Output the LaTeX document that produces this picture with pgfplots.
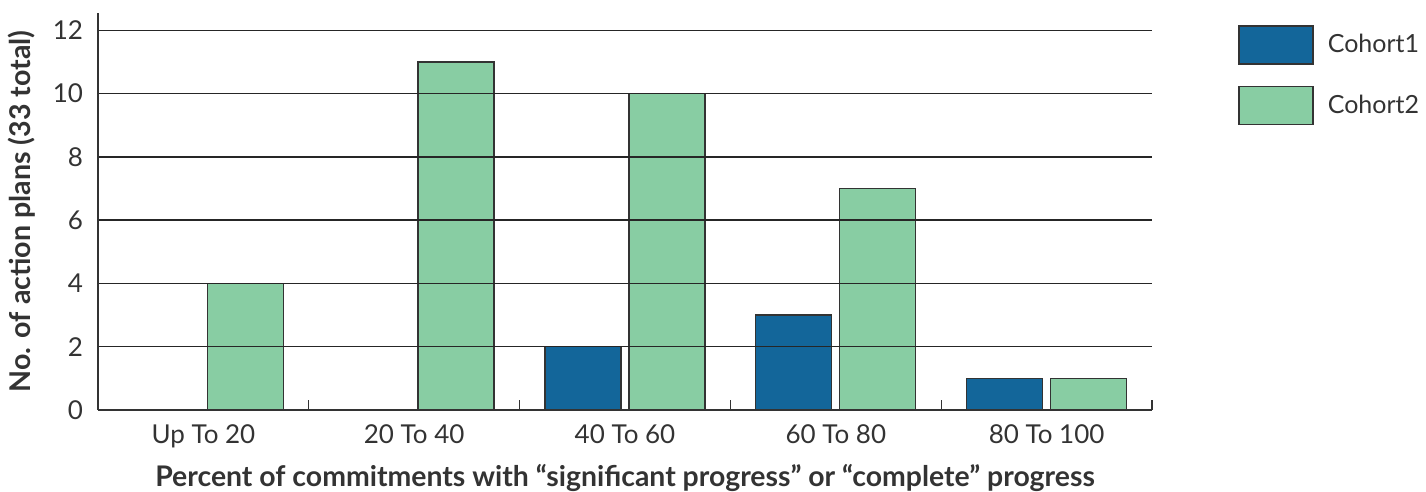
\documentclass[border=0pt]{standalone}
\usepackage{pgfplots}
\pgfplotsset{compat=1.18}
\usepackage{fontspec}
\setmainfont{Lato}
\definecolor{cblue}{HTML}{13669A}
\definecolor{cgreen}{HTML}{88CDA3}
\definecolor{txt}{HTML}{333333}
\begin{document}
\begin{tikzpicture}[x=1pt,y=1pt]
\path[use as bounding box] (-49pt,-41pt) rectangle (664pt,205pt);
\begin{axis}[
  at={(0pt,0pt)}, anchor=south west,
  scale only axis,
  width=527pt, height=198.5pt,
  xmin=-0.5, xmax=4.5,
  ymin=0, ymax=12.55,
  ybar, bar width=38pt,
  axis x line*=bottom, axis y line*=left,
  axis line style={draw=txt, line width=0.8pt},
  xtick={0.5,1.5,2.5,3.5,4.5},
  xticklabels={},
  major x tick style={draw=txt, line width=0.6pt},
  major tick length=5pt,
  tick align=inside,
  extra x ticks={0,1,2,3,4},
  extra x tick labels={Up To 20, 20 To 40, 40 To 60, 60 To 80, 80 To 100},
  extra x tick style={major tick length=0pt, grid=none},
  ytick={0,2,...,12},
  ymajorgrids,
  major grid style={draw=black!85, line width=0.7pt},
  major y tick style={draw=none},
  axis on top,
  /pgf/number format/assume math mode=true,
  ticklabel style={font=\fontsize{13}{15}\selectfont, text=txt},
  xticklabel style={yshift=-4pt},
  yticklabel style={xshift=-4pt},
  ylabel={\bfseries No. of action plans (33 total)},
  ylabel style={font=\fontsize{14.3}{16}\selectfont, text=txt, at={(-38pt,0.5)}, anchor=center},
  xlabel={\bfseries Percent of commitments with “significant progress” or “complete” progress},
  xlabel style={font=\fontsize{14.2}{16}\selectfont, text=txt, at={(0.5,-34pt)}, anchor=center},
  legend style={at={(567pt,194.5pt)}, anchor=north west, draw=none, fill=none,
    font=\fontsize{12.5}{14}\selectfont, text=txt, row sep=10.5pt,
    /tikz/every odd column/.append style={column sep=5pt}},
  legend cell align=left,
  legend image code/.code={\draw[#1, line width=0.7pt] (0pt,-9.5pt) rectangle (37pt,9.5pt);},
]
\addplot[fill=cblue, draw=black!80, line width=0.7pt, bar shift=-21pt] coordinates {(0,0) (1,0) (2,2) (3,3) (4,1)};
\addplot[fill=cgreen, draw=black!80, line width=0.7pt, bar shift=21pt] coordinates {(0,4) (1,11) (2,10) (3,7) (4,1)};
\legend{Cohort1, Cohort2}
\end{axis}
\end{tikzpicture}
\end{document}
